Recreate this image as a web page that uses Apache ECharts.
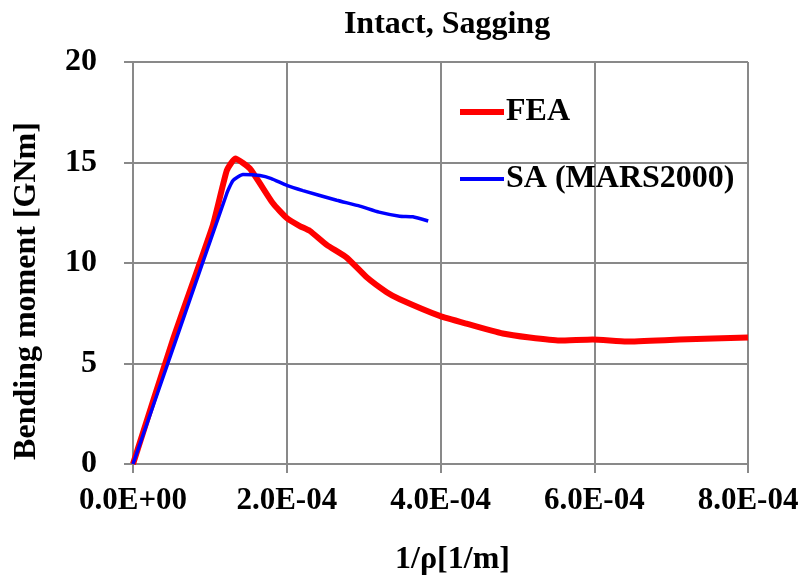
<!DOCTYPE html>
<html>
<head>
<meta charset="utf-8">
<script src="https://cdn.jsdelivr.net/npm/echarts@6/dist/echarts.min.js"></script>
<style>
  html, body { margin: 0; padding: 0; background: #fff; }
  #chart { width: 803px; height: 581px; }
</style>
</head>
<body>
<div id="chart"></div>
<script>
// curvature 1/rho [1/m] and bending moment [GNm]
const feaX = [0, 0.52e-4, 1.04e-4, 1.22e-4, 1.33e-4, 1.52e-4, 1.82e-4, 2.0e-4, 2.17e-4, 2.3e-4,
  2.52e-4, 2.78e-4, 3.04e-4, 3.3e-4, 3.47e-4, 3.99e-4, 4.34e-4, 4.81e-4, 5.16e-4, 5.55e-4,
  5.98e-4, 6.42e-4, 7.11e-4, 8.0e-4];
const feaY = [0, 6.2, 11.9, 14.6, 15.2, 14.7, 12.97, 12.24, 11.84, 11.6,
  10.9, 10.27, 9.29, 8.55, 8.2, 7.37, 6.98, 6.49, 6.29, 6.14,
  6.19, 6.09, 6.19, 6.29];
const saX = [0, 0.57e-4, 1.22e-4, 1.3e-4, 1.43e-4, 1.65e-4, 1.8e-4, 2.0e-4, 2.21e-4, 2.65e-4,
  2.95e-4, 3.2e-4, 3.47e-4, 3.64e-4, 3.84e-4];
const saY = [0, 6.3, 13.46, 14.1, 14.4, 14.35, 14.2, 13.86, 13.6, 13.12,
  12.83, 12.53, 12.33, 12.3, 12.09];

const seriesNames = ['FEA', 'SA (MARS2000)'];
const xTicks = { min: 0, max: 8e-4, interval: 2e-4 };
const yTicks = { min: 0, max: 20, interval: 5 };

const font = 'Liberation Serif';
const pair = (xs, ys) => xs.map((x, i) => [x, ys[i]]);
const bold = (size) => ({ fontFamily: font, fontWeight: 'bold', fontSize: size, color: '#000' });

const chart = echarts.init(document.getElementById('chart'));
chart.setOption({
  animation: false,
  title: {
    text: 'Intact, Sagging',
    left: 442, top: 4, textAlign: 'center',
    textStyle: bold(32)
  },
  grid: { left: 133, right: 55, top: 62, bottom: 112 },
  legend: [
    {
      data: [seriesNames[0]], left: 455, top: 91, icon: 'rect', itemWidth: 44, itemHeight: 6,
      itemGap: 0, textStyle: Object.assign(bold(32), { padding: [0, 0, 0, -3] })
    },
    {
      data: [seriesNames[1]], left: 455, top: 158, icon: 'rect', itemWidth: 44, itemHeight: 4,
      itemGap: 0, textStyle: Object.assign(bold(32), { padding: [0, 0, 0, -3] })
    }
  ],
  xAxis: {
    type: 'value', min: xTicks.min, max: xTicks.max, interval: xTicks.interval,
    name: '1/ρ[1/m]', nameLocation: 'middle', nameGap: 80,
    nameTextStyle: Object.assign(bold(32), { padding: [0, 0, 0, 24] }),
    axisLine: { show: true, lineStyle: { color: '#898989', width: 2 } },
    axisTick: { show: true, length: 9, lineStyle: { color: '#898989', width: 2 } },
    splitLine: { show: true, lineStyle: { color: '#898989', width: 2 } },
    axisLabel: Object.assign(bold(31), {
      margin: 21,
      formatter: v => v.toExponential(1).toUpperCase().replace(/E([+-])(\d)$/, 'E$10$2')
    })
  },
  yAxis: {
    type: 'value', min: yTicks.min, max: yTicks.max, interval: yTicks.interval,
    name: 'Bending moment [GNm]', nameLocation: 'middle', nameGap: 90,
    nameTextStyle: Object.assign(bold(32), { padding: [0, 56, 0, 0] }),
    axisLine: { show: true, lineStyle: { color: '#898989', width: 2 } },
    axisTick: { show: true, length: 9, lineStyle: { color: '#898989', width: 2 } },
    splitLine: { show: true, lineStyle: { color: '#898989', width: 2 } },
    axisLabel: Object.assign(bold(32), { margin: 36 })
  },
  series: [
    {
      name: seriesNames[0], type: 'line', data: pair(feaX, feaY), smooth: 0.15,
      showSymbol: false, color: '#ff0000', lineStyle: { width: 6, color: '#ff0000' }
    },
    {
      name: seriesNames[1], type: 'line', data: pair(saX, saY), smooth: 0.15,
      showSymbol: false, color: '#0000ff', lineStyle: { width: 3.5, color: '#0000ff' }
    }
  ]
});
</script>
</body>
</html>
